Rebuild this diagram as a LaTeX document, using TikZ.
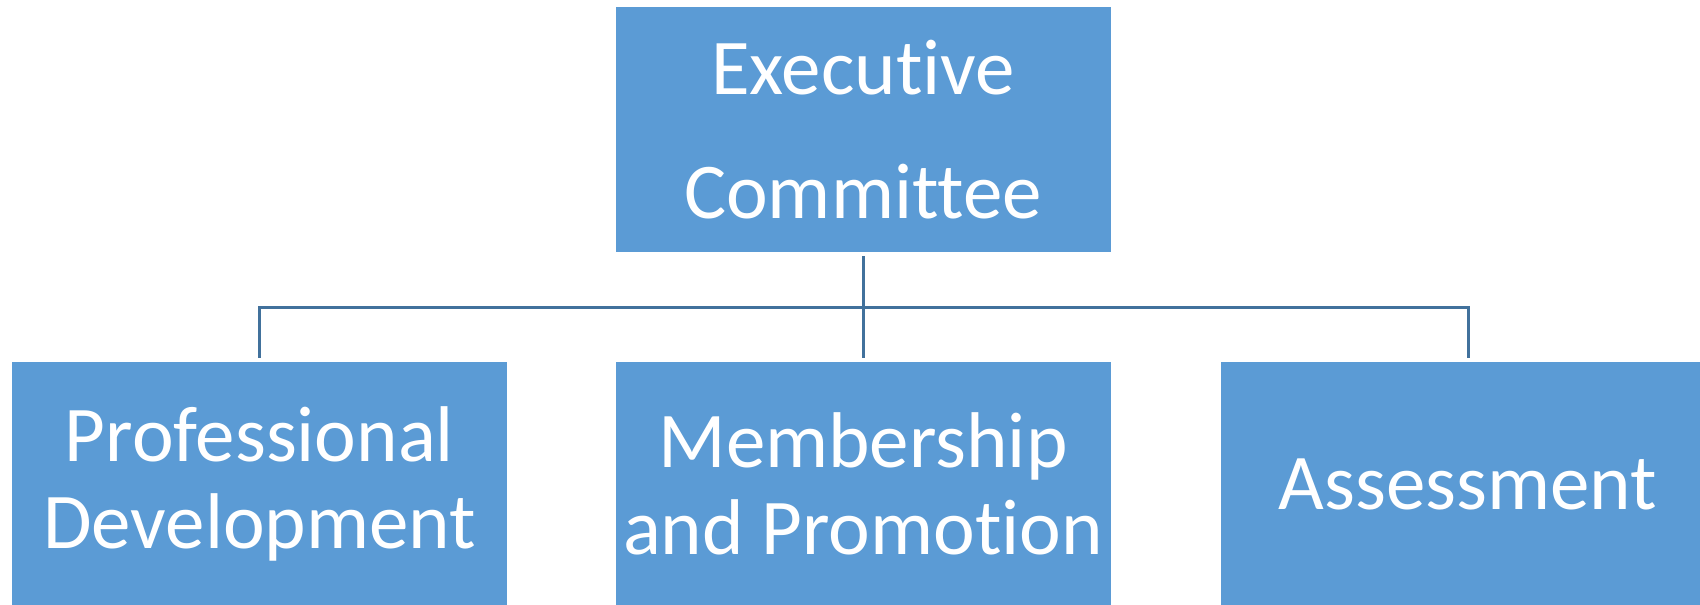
\documentclass[tikz,border=0pt]{standalone}
\usepackage{fontspec}
\setmainfont{Carlito}[Ligatures=NoCommon]
\definecolor{boxblue}{HTML}{5B9BD5}
\definecolor{linkblue}{HTML}{41719C}
\begin{document}
\begin{tikzpicture}
    [x=1pt,y=-1pt,
     box/.style={rectangle,fill=boxblue,draw=white,line width=1pt,
       minimum width=496pt,minimum height=246pt,inner sep=0pt,
       text=white,align=center,font=\fontsize{79}{87.5}\selectfont},
     link/.style={draw=linkblue,line width=3pt,shorten <=3pt,shorten >=3pt}]
    \useasboundingbox (0,0) rectangle (1700,605);
    \node[box,font=\fontsize{79}{124}\selectfont] (exec) at (863,129.5) {Executive\\Committee};
    \node[box] (prof) at (259.5,484) {Professional\\Development};
    \node[box] (member) at (863,484) {Membership\\and Promotion};
    \node[box] (assess) at (1468,484) {Assessment};
    \coordinate (bus) at (863,307);
    
    \draw[link] (exec.south) -- (member.north);
    \draw[link] (prof.north) |- (bus) -| (assess.north);
  \end{tikzpicture}
\end{document}
